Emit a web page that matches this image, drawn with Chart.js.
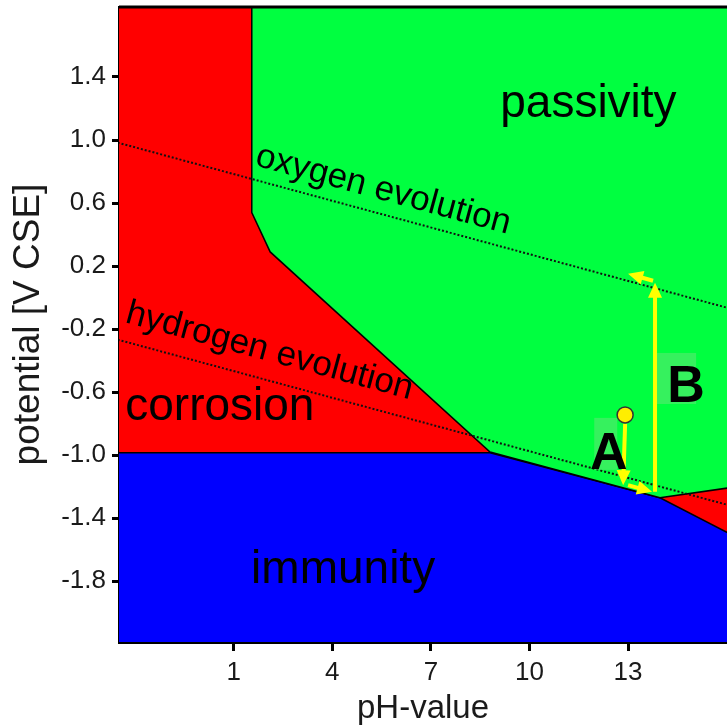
<!DOCTYPE html>
<html lang="en">
<head>
    <meta charset="UTF-8">
    <title>Pourbaix diagram</title>
    <script src="https://cdn.jsdelivr.net/npm/chart.js"></script>
    <style>
        body { margin: 0; background: #fff; }
        #wrap { width: 727px; height: 728px; }
    </style>
</head>
<body>
    <div id="wrap"><canvas id="pourbaix"></canvas></div>

    <script>
        // axis ticks
        const xTicks = [1, 4, 7, 10, 13];
        const yTicks = [-1.8, -1.4, -1.0, -0.6, -0.2, 0.2, 0.6, 1.0, 1.4];

        // region boundaries (pH, V CSE)
        const passivityPH = [1.55, 1.55, 2.11, 8.80, 13.97, 16.3];
        const passivityV  = [2.2, 0.54, 0.29, -0.98, -1.27, -1.20];
        const immunityPH  = [-3, 8.80, 13.97, 16.3];
        const immunityV   = [-0.985, -0.985, -1.27, -1.52];

        // water stability lines
        const oxygenPH   = [-3, 17];
        const oxygenV    = [1.01, -0.12];
        const hydrogenPH = [-3, 17];
        const hydrogenV  = [-0.24, -1.37];

        // state point and arrows A / B  [pH1, V1, pH2, V2]
        const pointPH = [12.91];
        const pointV  = [-0.744];
        const arrows = [
            [12.91, -0.80, 12.85, -1.19],
            [13.00, -1.19, 13.73, -1.232],
            [13.82, -1.232, 13.82, 0.095],
            [13.76, 0.107, 13.00, 0.151]
        ];

        // text labels
        const regionNames = ['passivity', 'corrosion', 'immunity'];
        const regionPH    = [9.11, -2.30, 1.53];
        const regionV     = [1.146, -0.776, -1.81];
        const lineNames   = ['oxygen evolution', 'hydrogen evolution'];
        const linePH      = [1.62, -2.33];
        const lineV       = [0.84, -0.154];
        const letterNames = ['A', 'B'];
        const letterPH    = [11.84, 14.19];
        const letterV     = [-1.09, -0.662];
        const letterBoxes = [
            [11.97, -0.763, 12.67, -1.093],
            [13.88, -0.351, 15.07, -0.675]
        ];

        const toXY = (xs, ys) => xs.map((x, i) => ({ x: x, y: ys[i] }));
        const FONT = '"Liberation Sans", Arial, sans-serif';

        // red background of the plot area
        const background = {
            id: 'background',
            beforeDatasetsDraw(chart) {
                const { ctx, chartArea: a } = chart;
                ctx.save();
                ctx.fillStyle = '#ff0000';
                ctx.fillRect(a.left, a.top, a.right - a.left, a.bottom - a.top);
                ctx.restore();
            }
        };

        function drawArrow(ctx, x1, y1, x2, y2) {
            const ang = Math.atan2(y2 - y1, x2 - x1);
            const len = 15, half = 7;
            ctx.beginPath();
            ctx.moveTo(x1, y1);
            ctx.lineTo(x2 - Math.cos(ang) * len * 0.8, y2 - Math.sin(ang) * len * 0.8);
            ctx.stroke();
            ctx.beginPath();
            ctx.moveTo(x2, y2);
            ctx.lineTo(x2 - Math.cos(ang) * len - Math.sin(ang) * half, y2 - Math.sin(ang) * len + Math.cos(ang) * half);
            ctx.lineTo(x2 - Math.cos(ang) * len + Math.sin(ang) * half, y2 - Math.sin(ang) * len - Math.cos(ang) * half);
            ctx.closePath();
            ctx.fill();
        }

        // labels, arrows and frame
        const annotations = {
            id: 'annotations',
            afterDatasetsDraw(chart) {
                const { ctx, chartArea: a, scales: { x, y } } = chart;
                ctx.save();

                // light boxes behind A and B
                ctx.fillStyle = 'rgba(120, 225, 130, 0.45)';
                letterBoxes.forEach(b => {
                    const x1 = x.getPixelForValue(b[0]), y1 = y.getPixelForValue(b[1]);
                    const x2 = x.getPixelForValue(b[2]), y2 = y.getPixelForValue(b[3]);
                    ctx.fillRect(x1, y1, x2 - x1, y2 - y1);
                });

                // arrows
                ctx.strokeStyle = '#ffff00';
                ctx.fillStyle = '#ffff00';
                ctx.lineWidth = 4;
                arrows.forEach(r => drawArrow(ctx,
                    x.getPixelForValue(r[0]), y.getPixelForValue(r[1]),
                    x.getPixelForValue(r[2]), y.getPixelForValue(r[3])));

                // state point on top of arrow A
                ctx.beginPath();
                ctx.arc(x.getPixelForValue(pointPH[0]), y.getPixelForValue(pointV[0]), 8, 0, Math.PI * 2);
                ctx.fillStyle = '#ffee00';
                ctx.fill();
                ctx.strokeStyle = '#333';
                ctx.lineWidth = 1.5;
                ctx.stroke();

                ctx.fillStyle = '#000';
                ctx.textAlign = 'left';
                ctx.textBaseline = 'alphabetic';

                ctx.font = '46px ' + FONT;
                regionNames.forEach((t, i) => {
                    ctx.fillText(t, x.getPixelForValue(regionPH[i]), y.getPixelForValue(regionV[i]));
                });

                // rotated along the water lines
                const slopes = [[oxygenPH, oxygenV], [hydrogenPH, hydrogenV]];
                ctx.font = '35px ' + FONT;
                lineNames.forEach((t, i) => {
                    const [ph, v] = slopes[i];
                    const ang = Math.atan2(y.getPixelForValue(v[1]) - y.getPixelForValue(v[0]),
                                           x.getPixelForValue(ph[1]) - x.getPixelForValue(ph[0]));
                    ctx.save();
                    ctx.translate(x.getPixelForValue(linePH[i]), y.getPixelForValue(lineV[i]));
                    ctx.rotate(ang);
                    ctx.fillText(t, 0, 0);
                    ctx.restore();
                });

                ctx.font = 'bold 52px ' + FONT;
                letterNames.forEach((t, i) => {
                    ctx.fillText(t, x.getPixelForValue(letterPH[i]), y.getPixelForValue(letterV[i]));
                });

                // top frame line
                ctx.strokeStyle = '#000';
                ctx.lineWidth = 3;
                ctx.beginPath();
                ctx.moveTo(a.left, a.top);
                ctx.lineTo(a.right, a.top);
                ctx.stroke();
                ctx.restore();
            }
        };

        const noPadding = s => {
            s.paddingTop = 0;
            s.paddingBottom = 0;
            s.paddingLeft = 0;
            s.paddingRight = 0;
        };

        new Chart(document.getElementById('pourbaix'), {
            type: 'scatter',
            data: {
                datasets: [
                    {
                        data: toXY(immunityPH, immunityV),
                        order: 4,
                        showLine: true,
                        fill: 'start',
                        backgroundColor: '#0000ff',
                        borderColor: '#000',
                        borderWidth: 1.5,
                        pointRadius: 0
                    },
                    {
                        data: toXY(passivityPH, passivityV),
                        order: 3,
                        showLine: true,
                        fill: 'end',
                        backgroundColor: '#00ff40',
                        borderColor: '#000',
                        borderWidth: 1.5,
                        pointRadius: 0
                    },
                    {
                        data: toXY(oxygenPH, oxygenV),
                        order: 1,
                        showLine: true,
                        borderColor: '#111',
                        borderWidth: 2,
                        borderDash: [2, 2],
                        pointRadius: 0
                    },
                    {
                        data: toXY(hydrogenPH, hydrogenV),
                        order: 1,
                        showLine: true,
                        borderColor: '#111',
                        borderWidth: 2,
                        borderDash: [2, 2],
                        pointRadius: 0
                    }
                ]
            },
            options: {
                responsive: true,
                maintainAspectRatio: false,
                animation: false,
                layout: { padding: { top: 7, right: 0, bottom: 0, left: 0 } },
                plugins: {
                    legend: { display: false },
                    tooltip: { enabled: false }
                },
                scales: {
                    x: {
                        type: 'linear',
                        min: -2.49,
                        max: 16.01,
                        afterBuildTicks: s => { s.ticks = xTicks.map(v => ({ value: v })); },
                        afterFit: s => { s.height = 86; noPadding(s); },
                        grid: { drawOnChartArea: false, tickLength: 9, tickWidth: 3, tickColor: '#000' },
                        border: { display: true, color: '#000', width: 3 },
                        ticks: {
                            padding: 6,
                            color: '#1a1a1a',
                            font: { family: FONT, size: 26 },
                            callback: v => String(v)
                        },
                        title: {
                            display: true,
                            text: 'pH-value',
                            color: '#1a1a1a',
                            font: { family: FONT, size: 33, lineHeight: 1 },
                            padding: { top: 0, bottom: 3 }
                        }
                    },
                    y: {
                        type: 'linear',
                        min: -2.185,
                        max: 1.844,
                        afterBuildTicks: s => { s.ticks = yTicks.map(v => ({ value: v })); },
                        afterFit: s => { s.width = 119; noPadding(s); },
                        grid: { drawOnChartArea: false, tickLength: 7, tickWidth: 3, tickColor: '#000' },
                        border: { display: true, color: '#000', width: 3 },
                        ticks: {
                            padding: 6,
                            color: '#1a1a1a',
                            font: { family: FONT, size: 26 },
                            callback: v => v.toFixed(1)
                        },
                        title: {
                            display: true,
                            text: 'potential [V CSE]',
                            color: '#1a1a1a',
                            font: { family: FONT, size: 37, lineHeight: 1 },
                            padding: { top: 10, bottom: 0 }
                        }
                    }
                }
            },
            plugins: [background, annotations]
        });
    </script>
</body>
</html>
